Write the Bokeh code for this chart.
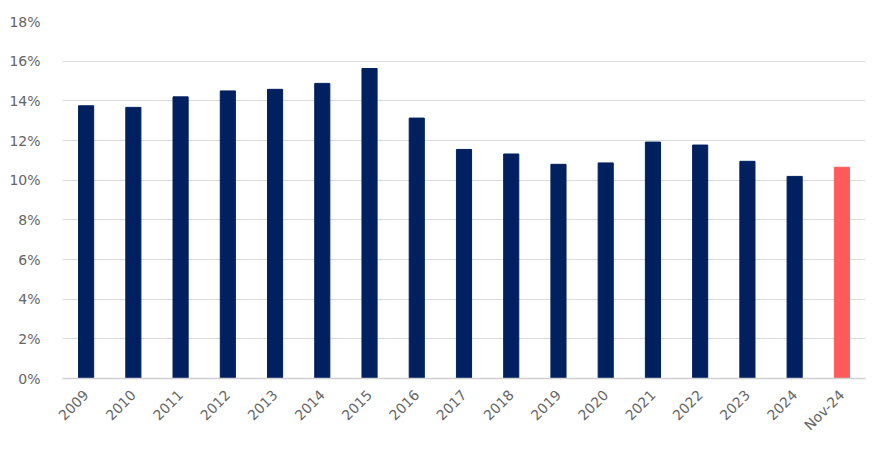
import math
from bokeh.plotting import figure
from bokeh.models import ColumnDataSource, NumeralTickFormatter, FixedTicker, Range1d
from bokeh.embed import file_html
from bokeh.resources import INLINE

categories = ["2009", "2010", "2011", "2012", "2013", "2014", "2015", "2016", "2017",
              "2018", "2019", "2020", "2021", "2022", "2023", "2024", "Nov-24"]
values = [13.75, 13.67, 14.2, 14.5, 14.58, 14.88, 15.63, 13.13, 11.55,
          11.32, 10.8, 10.87, 11.92, 11.77, 10.95, 10.19, 10.65]
colors = ["#002060"] * 16 + ["#FF5B5B"]
y_ticks = [0, 2, 4, 6, 8, 10, 12, 14, 16, 18]

src = ColumnDataSource(dict(cat=categories, val=[v / 100 for v in values], color=colors))

p = figure(x_range=categories, width=874, height=445, output_backend="svg",
           toolbar_location=None, min_border_left=62, min_border_right=9,
           min_border_top=21, min_border_bottom=67)
p.y_range = Range1d(0, 0.18)
p.vbar(x="cat", top="val", width=0.32, color="color", source=src)

p.yaxis.ticker = FixedTicker(ticks=[t / 100 for t in y_ticks])
p.yaxis.formatter = NumeralTickFormatter(format="0%")
p.yaxis.axis_line_color = None
p.yaxis.major_tick_line_color = None
p.yaxis.minor_tick_line_color = None
p.yaxis.major_label_standoff = 16

p.xaxis.axis_line_color = "#d0d0d0"
p.xaxis.axis_line_width = 1.5
p.xaxis.major_tick_line_color = None
p.xaxis.major_label_orientation = math.pi / 4
p.xaxis.major_label_standoff = 8

for ax in (p.xaxis, p.yaxis):
    ax.major_label_text_font = "DejaVu Sans"
    ax.major_label_text_font_size = "14px"
    ax.major_label_text_color = "#666666"

p.xgrid.grid_line_color = None
p.ygrid.grid_line_color = "#d9d9d9"
p.ygrid.grid_line_width = 1
p.outline_line_color = None
p.x_range.range_padding = 0.0

open("out.html", "w").write(file_html(p, INLINE))
